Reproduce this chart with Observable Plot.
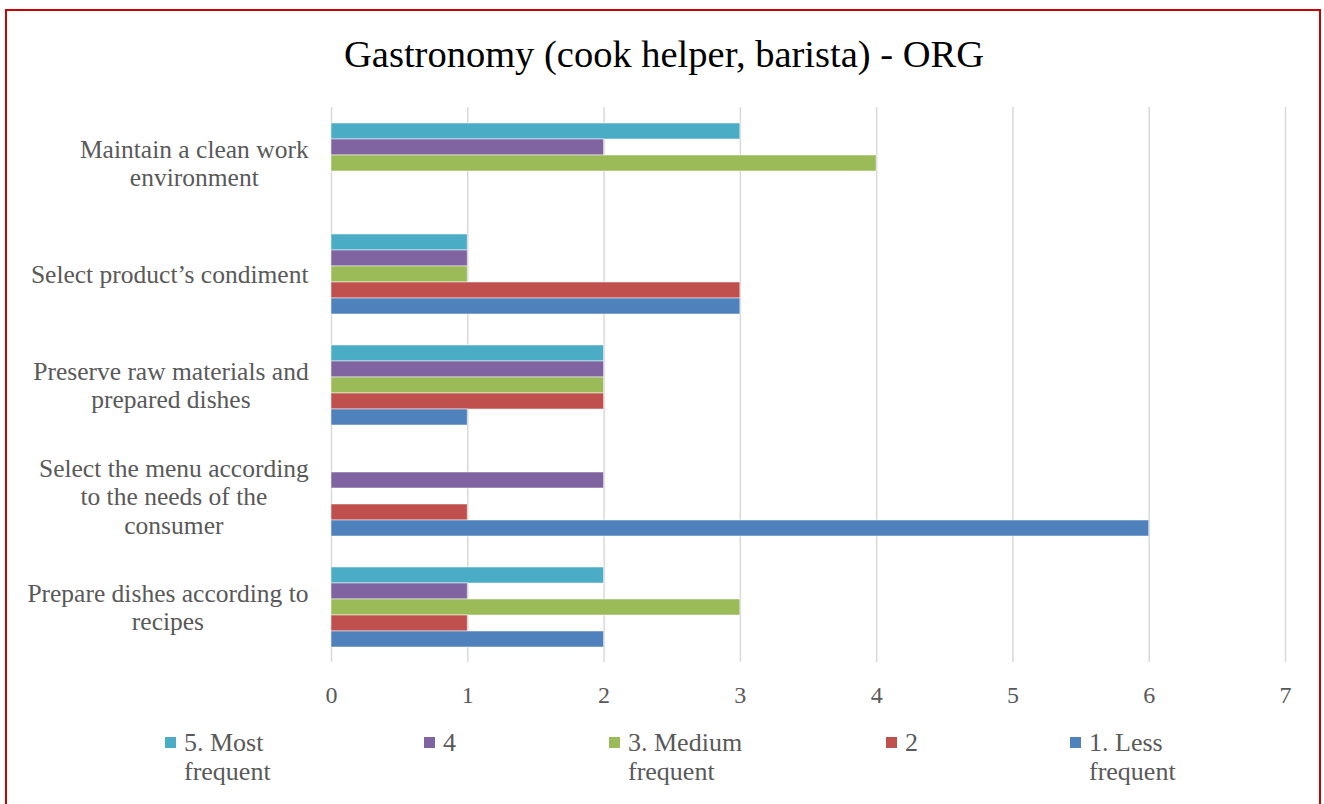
<!DOCTYPE html>
<html>
<head>
<meta charset="utf-8">
<script src="https://cdn.jsdelivr.net/npm/d3@7"></script>
<script src="https://cdn.jsdelivr.net/npm/@observablehq/plot@0.6"></script>
<style>
  html, body { margin: 0; padding: 0; background: #fff; }
  #wrap { position: relative; width: 1324px; height: 804px; overflow: hidden; font-family: "Liberation Serif", serif; }
  #frame { position: absolute; left: 5px; top: 9px; width: 1316px; height: 830px; border: 2px solid #CC0000; box-sizing: border-box; }
  #title { position: absolute; left: 2px; top: 35px; width: 1324px; text-align: center; font-size: 38.5px; line-height: 38.5px; color: #000; white-space: nowrap; }
  #chart { position: absolute; left: 0; top: 0; }
  #chart g[aria-label="x-axis tick label"] { font-size: 24px; }
  .leg { position: absolute; top: 728px; color: #595959; font-size: 26px; line-height: 29px; }
  .leg .sw { position: absolute; left: 0; top: 9px; width: 11px; height: 11px; }
  .leg .tx { position: absolute; left: 19px; top: 0; width: 128px; }
</style>
</head>
<body>
<div id="wrap">
  <div id="frame"></div>
  <div id="chart"></div>
  <div id="title"></div>
</div>
<script>
const titleText = "Gastronomy (cook helper, barista) - ORG";
const categories = [
  "Maintain a clean work environment",
  "Select product’s condiment",
  "Preserve raw materials and prepared dishes",
  "Select the menu according to the needs of the consumer",
  "Prepare dishes according to recipes"
];
const categoryLabels = [
  "Maintain a clean work\nenvironment",
  "Select product’s condiment",
  "Preserve raw materials and\nprepared dishes",
  "Select the menu according\nto the needs of the\nconsumer",
  "Prepare dishes according to\nrecipes"
];
const series = ["5. Most frequent", "4", "3. Medium frequent", "2", "1. Less frequent"];
const seriesColors = ["#4BACC6", "#8064A2", "#9BBB59", "#C0504D", "#4F81BD"];
const values5 = [3, 1, 2, 0, 2];
const values4 = [2, 1, 2, 2, 1];
const values3 = [4, 1, 2, 0, 3];
const values2 = [0, 3, 2, 1, 1];
const values1 = [0, 3, 1, 6, 2];
const xTicks = [0, 1, 2, 3, 4, 5, 6, 7];

const seriesValues = [values5, values4, values3, values2, values1];
const data = [];
series.forEach((s, i) => categories.forEach((c, j) => {
  const v = seriesValues[i][j];
  if (v > 0) data.push({category: c, series: s, value: v});
}));

document.getElementById("title").textContent = titleText;

const chart = Plot.plot({
  width: 1324,
  height: 720,
  marginLeft: 331,
  marginRight: 39,
  marginTop: 106,
  marginBottom: 58,
  style: {fontFamily: "'Liberation Serif', serif", fontSize: "25.5px", color: "#595959", background: "transparent", overflow: "visible"},
  x: {domain: [0, 7], ticks: xTicks, tickFormat: d3.format("d"), tickSize: 0, tickPadding: 23, label: null},
  y: {domain: series, paddingInner: 0, paddingOuter: 0.94, axis: null},
  fy: {domain: categories, padding: 0, label: null, axis: null},
  color: {domain: series, range: seriesColors},
  marks: [
    Plot.gridX(xTicks, {stroke: "#D9D9D9", strokeOpacity: 1, strokeWidth: 1.5}),
    Plot.barX(data, {x: "value", y: "series", fy: "category", fill: "series", stroke: "#ffffff", strokeOpacity: 0.5, strokeWidth: 1}),
    Plot.axisFy({anchor: "left", tickSize: 0, tickPadding: 23, lineHeight: 1.118, label: null,
      tickFormat: c => categoryLabels[categories.indexOf(c)]})
  ]
});
document.getElementById("chart").appendChild(chart);

// center multi-line category labels within their block (right edge kept)
chart.querySelectorAll('g[aria-label="fy-axis tick label"] text').forEach(t => {
  const b = t.getBBox();
  const cx = b.x + b.width / 2;
  t.setAttribute("text-anchor", "middle");
  const old = t.getAttribute("transform") || "";
  t.setAttribute("transform", old + ` translate(${cx},0)`);
});

// legend
const legendLeft = [165, 424, 609, 886, 1070];
const wrap = document.getElementById("wrap");
series.forEach((s, i) => {
  const item = document.createElement("div");
  item.className = "leg";
  item.style.left = legendLeft[i] + "px";
  const sw = document.createElement("div");
  sw.className = "sw";
  sw.style.background = seriesColors[i];
  const tx = document.createElement("div");
  tx.className = "tx";
  tx.textContent = s;
  item.appendChild(sw);
  item.appendChild(tx);
  wrap.appendChild(item);
});
</script>
</body>
</html>
